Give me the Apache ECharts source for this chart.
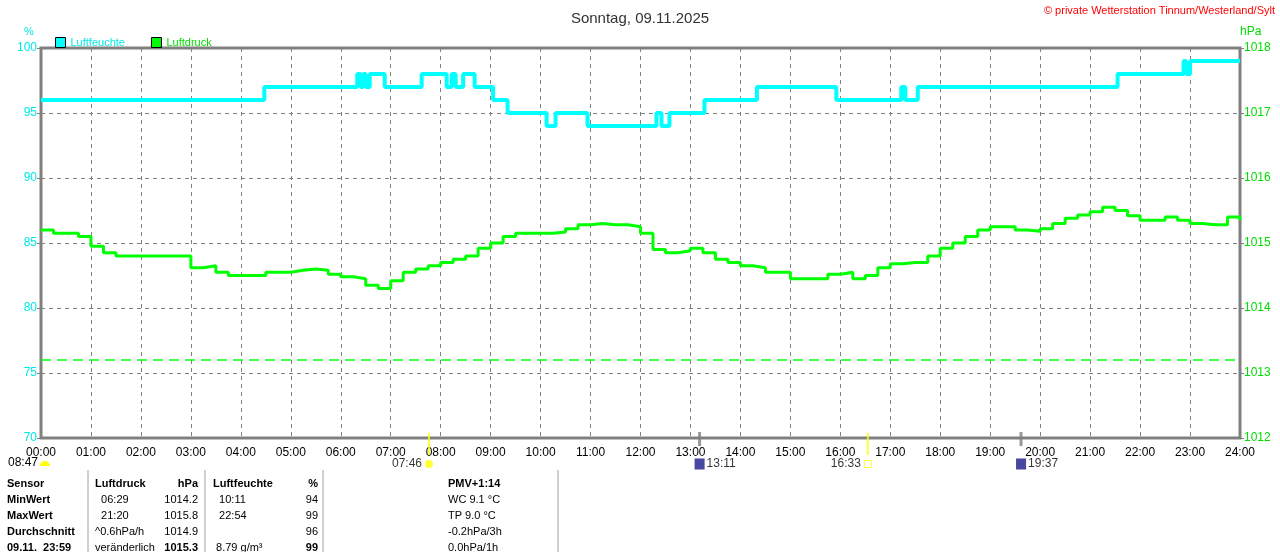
<!DOCTYPE html>
<html>
<head>
<meta charset="utf-8">
<title>Sonntag, 09.11.2025</title>
<script src="https://cdn.jsdelivr.net/npm/echarts@6/dist/echarts.min.js"></script>
<style>
  html, body { margin: 0; padding: 0; background: #fff; }
  #main { width: 1280px; height: 552px; }
</style>
</head>
<body>
<div id="main"></div>
<script>
  // Luftfeuchte: Stufenwechsel (Stunde, %)
  const humTimes = [0, 4.47, 6.33, 6.4, 6.45, 6.5, 6.58, 6.88, 7.62, 8.12, 8.22, 8.3, 8.45, 8.68,
    9.05, 9.34, 10.12, 10.3, 10.94, 12.32, 12.42, 12.58, 13.28, 14.33, 15.92, 17.22, 17.3, 17.55,
    21.55, 22.87, 22.92, 23.0, 24];
  const humValues = [96, 97, 98, 97, 98, 97, 98, 97, 98, 97, 98, 97, 98, 97,
    96, 95, 94, 95, 94, 95, 94, 95, 96, 97, 96, 97, 96, 97,
    98, 99, 98, 99, 99];

  // Luftdruck alle 15 Minuten (hPa)
  const pressStep = 0.25;
  const pressValues = [
    1015.2, 1015.15, 1015.15, 1015.1, 1014.95, 1014.85, 1014.8, 1014.8,
    1014.8, 1014.8, 1014.8, 1014.8, 1014.62, 1014.65, 1014.55, 1014.5,
    1014.5, 1014.5, 1014.55, 1014.55, 1014.58, 1014.6, 1014.58, 1014.52,
    1014.48, 1014.45, 1014.35, 1014.3, 1014.42, 1014.55, 1014.6, 1014.65,
    1014.7, 1014.75, 1014.8, 1014.92, 1015.0, 1015.1, 1015.15, 1015.15,
    1015.15, 1015.17, 1015.22, 1015.28, 1015.3, 1015.28, 1015.28, 1015.25,
    1015.15, 1014.9, 1014.85, 1014.88, 1014.92, 1014.85, 1014.75, 1014.7,
    1014.65, 1014.62, 1014.55, 1014.55, 1014.45, 1014.45, 1014.45, 1014.52,
    1014.55, 1014.45, 1014.5, 1014.62, 1014.68, 1014.7, 1014.7, 1014.8,
    1014.92, 1015.0, 1015.1, 1015.2, 1015.25, 1015.25, 1015.2, 1015.18,
    1015.22, 1015.3, 1015.38, 1015.43, 1015.48, 1015.55, 1015.5, 1015.42,
    1015.35, 1015.35, 1015.4, 1015.35, 1015.3, 1015.28, 1015.28, 1015.4,
    1015.35
  ];
  const pressMark = 1013.2;

  // Sonne / Mond
  const sunTimes = [7.767, 16.55];
  const sunLabels = ['07:46', '16:33'];
  const moonTimes = [13.183, 19.617];
  const moonLabels = ['13:11', '19:37'];
  const dayLength = '08:47';

  // Tabelle
  const rowNames = ['Sensor', 'MinWert', 'MaxWert', 'Durchschnitt', '09.11.  23:59'];
  const pressCol1 = ['Luftdruck', '  06:29', '  21:20', '^0.6hPa/h', 'veränderlich'];
  const pressCol2 = ['hPa', '1014.2', '1015.8', '1014.9', '1015.3'];
  const humCol1 = ['Luftfeuchte', '  10:11', '  22:54', '', ' 8.79 g/m³'];
  const humCol2 = ['%', '94', '99', '96', '99'];
  const extraCol = ['PMV+1:14', 'WC 9.1 °C', 'TP 9.0 °C', '-0.2hPa/3h', '0.0hPa/1h'];

  const font = '"Liberation Sans", Arial, sans-serif';
  const pad = n => (n < 10 ? '0' : '') + n;

  const humData = humTimes.map((t, i) => [t, humValues[i]]);
  const pressData = pressValues.map((v, i) => [i * pressStep, v]);

  const myChart = echarts.init(document.getElementById('main'));

  // Tabellentexte
  const rowY = [478, 494, 510, 526, 542];
  const table = [];
  rowY.forEach((y, i) => {
    const bold = i === 0 || i === 4;
    const add = (x, text, align, isBold) => table.push({
      type: 'text', x: x, y: y,
      style: { text: text, fill: '#000', font: (isBold ? 'bold ' : '') + '11px ' + font, textAlign: align }
    });
    add(7, rowNames[i], 'left', true);
    add(95, pressCol1[i], 'left', i === 0);
    add(198, pressCol2[i], 'right', bold);
    add(213, humCol1[i], 'left', i === 0);
    add(318, humCol2[i], 'right', bold);
    add(448, extraCol[i], 'left', i === 0);
  });
  [88, 205, 323, 558].forEach(x => table.push({
    type: 'line', shape: { x1: x, y1: 470, x2: x, y2: 552 },
    style: { stroke: '#a0a0a0', lineWidth: 1 }
  }));

  const option = {
    animation: false,
    backgroundColor: '#fff',
    title: {
      text: 'Sonntag, 09.11.2025',
      left: 'center', top: 6,
      textStyle: { color: '#333', fontSize: 15, fontWeight: 'normal', fontFamily: font }
    },
    legend: {
      left: 50, top: 32, itemWidth: 10, itemHeight: 10, itemGap: 26,
      icon: 'rect',
      textStyle: { fontSize: 11, fontFamily: font },
      data: [
        { name: 'Luftfeuchte', itemStyle: { color: '#00ffff', borderColor: '#000', borderWidth: 1 }, textStyle: { color: '#00e8e8' } },
        { name: 'Luftdruck', itemStyle: { color: '#00ff00', borderColor: '#000', borderWidth: 1 }, textStyle: { color: '#00dd00' } }
      ]
    },
    grid: {
      left: 41, right: 40, top: 48, bottom: 114,
      show: true, borderColor: '#808080', borderWidth: 3, backgroundColor: '#fff'
    },
    xAxis: {
      type: 'value', min: 0, max: 24, interval: 1,
      axisLine: { show: false },
      axisTick: { show: false },
      axisLabel: {
        color: '#000', fontSize: 12, fontFamily: font, margin: 9,
        formatter: v => pad(v) + ':00'
      },
      splitLine: { show: true, lineStyle: { color: '#808080', type: [4, 4], width: 1 } }
    },
    yAxis: [
      {
        type: 'value', min: 70, max: 100, interval: 5,
        axisLine: { show: false },
        axisTick: { show: true, length: 4, lineStyle: { color: '#808080' } },
        axisLabel: { color: '#00e8e8', fontSize: 12, fontFamily: font, margin: 4 },
        splitLine: { show: true, lineStyle: { color: '#808080', type: [4, 4], width: 1 } }
      },
      {
        type: 'value', min: 1012, max: 1018, interval: 1,
        axisLine: { show: false },
        axisTick: { show: true, length: 4, lineStyle: { color: '#808080' } },
        axisLabel: { color: '#00dd00', fontSize: 12, fontFamily: font, margin: 4, formatter: v => String(v) },
        splitLine: { show: false }
      }
    ],
    graphic: [
      { type: 'text', x: 24, y: 26, style: { text: '%', fill: '#00e8e8', font: '11px ' + font } },
      { type: 'text', x: 1240, y: 26, style: { text: 'hPa', fill: '#00dd00', font: '12px ' + font } },
      { type: 'text', x: 1275, y: 5, style: { text: '© private Wetterstation Tinnum/Westerland/Sylt', fill: '#ff0000', font: '11px ' + font, textAlign: 'right' } },
      { type: 'text', x: 8, y: 457, style: { text: dayLength, fill: '#000', font: '12px ' + font } },
      { type: 'sector', shape: { cx: 45, cy: 466, r: 5, startAngle: Math.PI, endAngle: 2 * Math.PI }, style: { fill: '#ffff00' } }
    ].concat(table),
    series: [
      {
        name: 'Luftfeuchte', type: 'line', yAxisIndex: 0, step: 'end',
        data: humData, showSymbol: false, z: 3,
        lineStyle: { color: '#00ffff', width: 4 }, itemStyle: { color: '#00ffff' }
      },
      {
        name: 'Luftdruck', type: 'line', yAxisIndex: 1, step: 'end',
        data: pressData, showSymbol: false, z: 3,
        lineStyle: { color: '#00ff00', width: 3 }, itemStyle: { color: '#00ff00' },
        markLine: {
          silent: true, symbol: 'none', label: { show: false },
          lineStyle: { color: '#00ff00', type: [10, 6], width: 1.5 },
          data: [{ yAxis: pressMark }]
        }
      },
      {
        name: 'sunTick', type: 'scatter', yAxisIndex: 0, clip: false, silent: true, z: 5,
        symbol: 'rect', symbolSize: [2, 22], symbolOffset: [0, 6],
        itemStyle: { color: '#ffff00' },
        data: sunTimes.map(t => [t, 70])
      },
      {
        name: 'moonTick', type: 'scatter', yAxisIndex: 0, clip: false, silent: true, z: 5,
        symbol: 'rect', symbolSize: [3, 14], symbolOffset: [0, 1],
        itemStyle: { color: '#808080' },
        data: moonTimes.map(t => [t, 70])
      },
      {
        name: 'sunIcon', type: 'scatter', yAxisIndex: 0, clip: false, silent: true, z: 5,
        symbolOffset: [0, 26],
        label: { show: true, position: 'left', distance: 3, color: '#000', fontSize: 12, fontFamily: font, formatter: p => sunLabels[p.dataIndex] },
        data: [
          { value: [sunTimes[0], 70], symbol: 'circle', symbolSize: 8, itemStyle: { color: '#ffff00' } },
          { value: [sunTimes[1], 70], symbol: 'rect', symbolSize: 7, itemStyle: { color: '#fff', borderColor: '#ffff00', borderWidth: 1 } }
        ]
      },
      {
        name: 'moonIcon', type: 'scatter', yAxisIndex: 0, clip: false, silent: true, z: 5,
        symbol: 'rect', symbolSize: [10, 11], symbolOffset: [0, 26],
        itemStyle: { color: '#1a1a8c' },
        label: { show: true, position: 'right', distance: 2, color: '#000', fontSize: 12, fontFamily: font, formatter: p => moonLabels[p.dataIndex] },
        data: moonTimes.map(t => [t, 70])
      }
    ]
  };

  myChart.setOption(option);
</script>
</body>
</html>
